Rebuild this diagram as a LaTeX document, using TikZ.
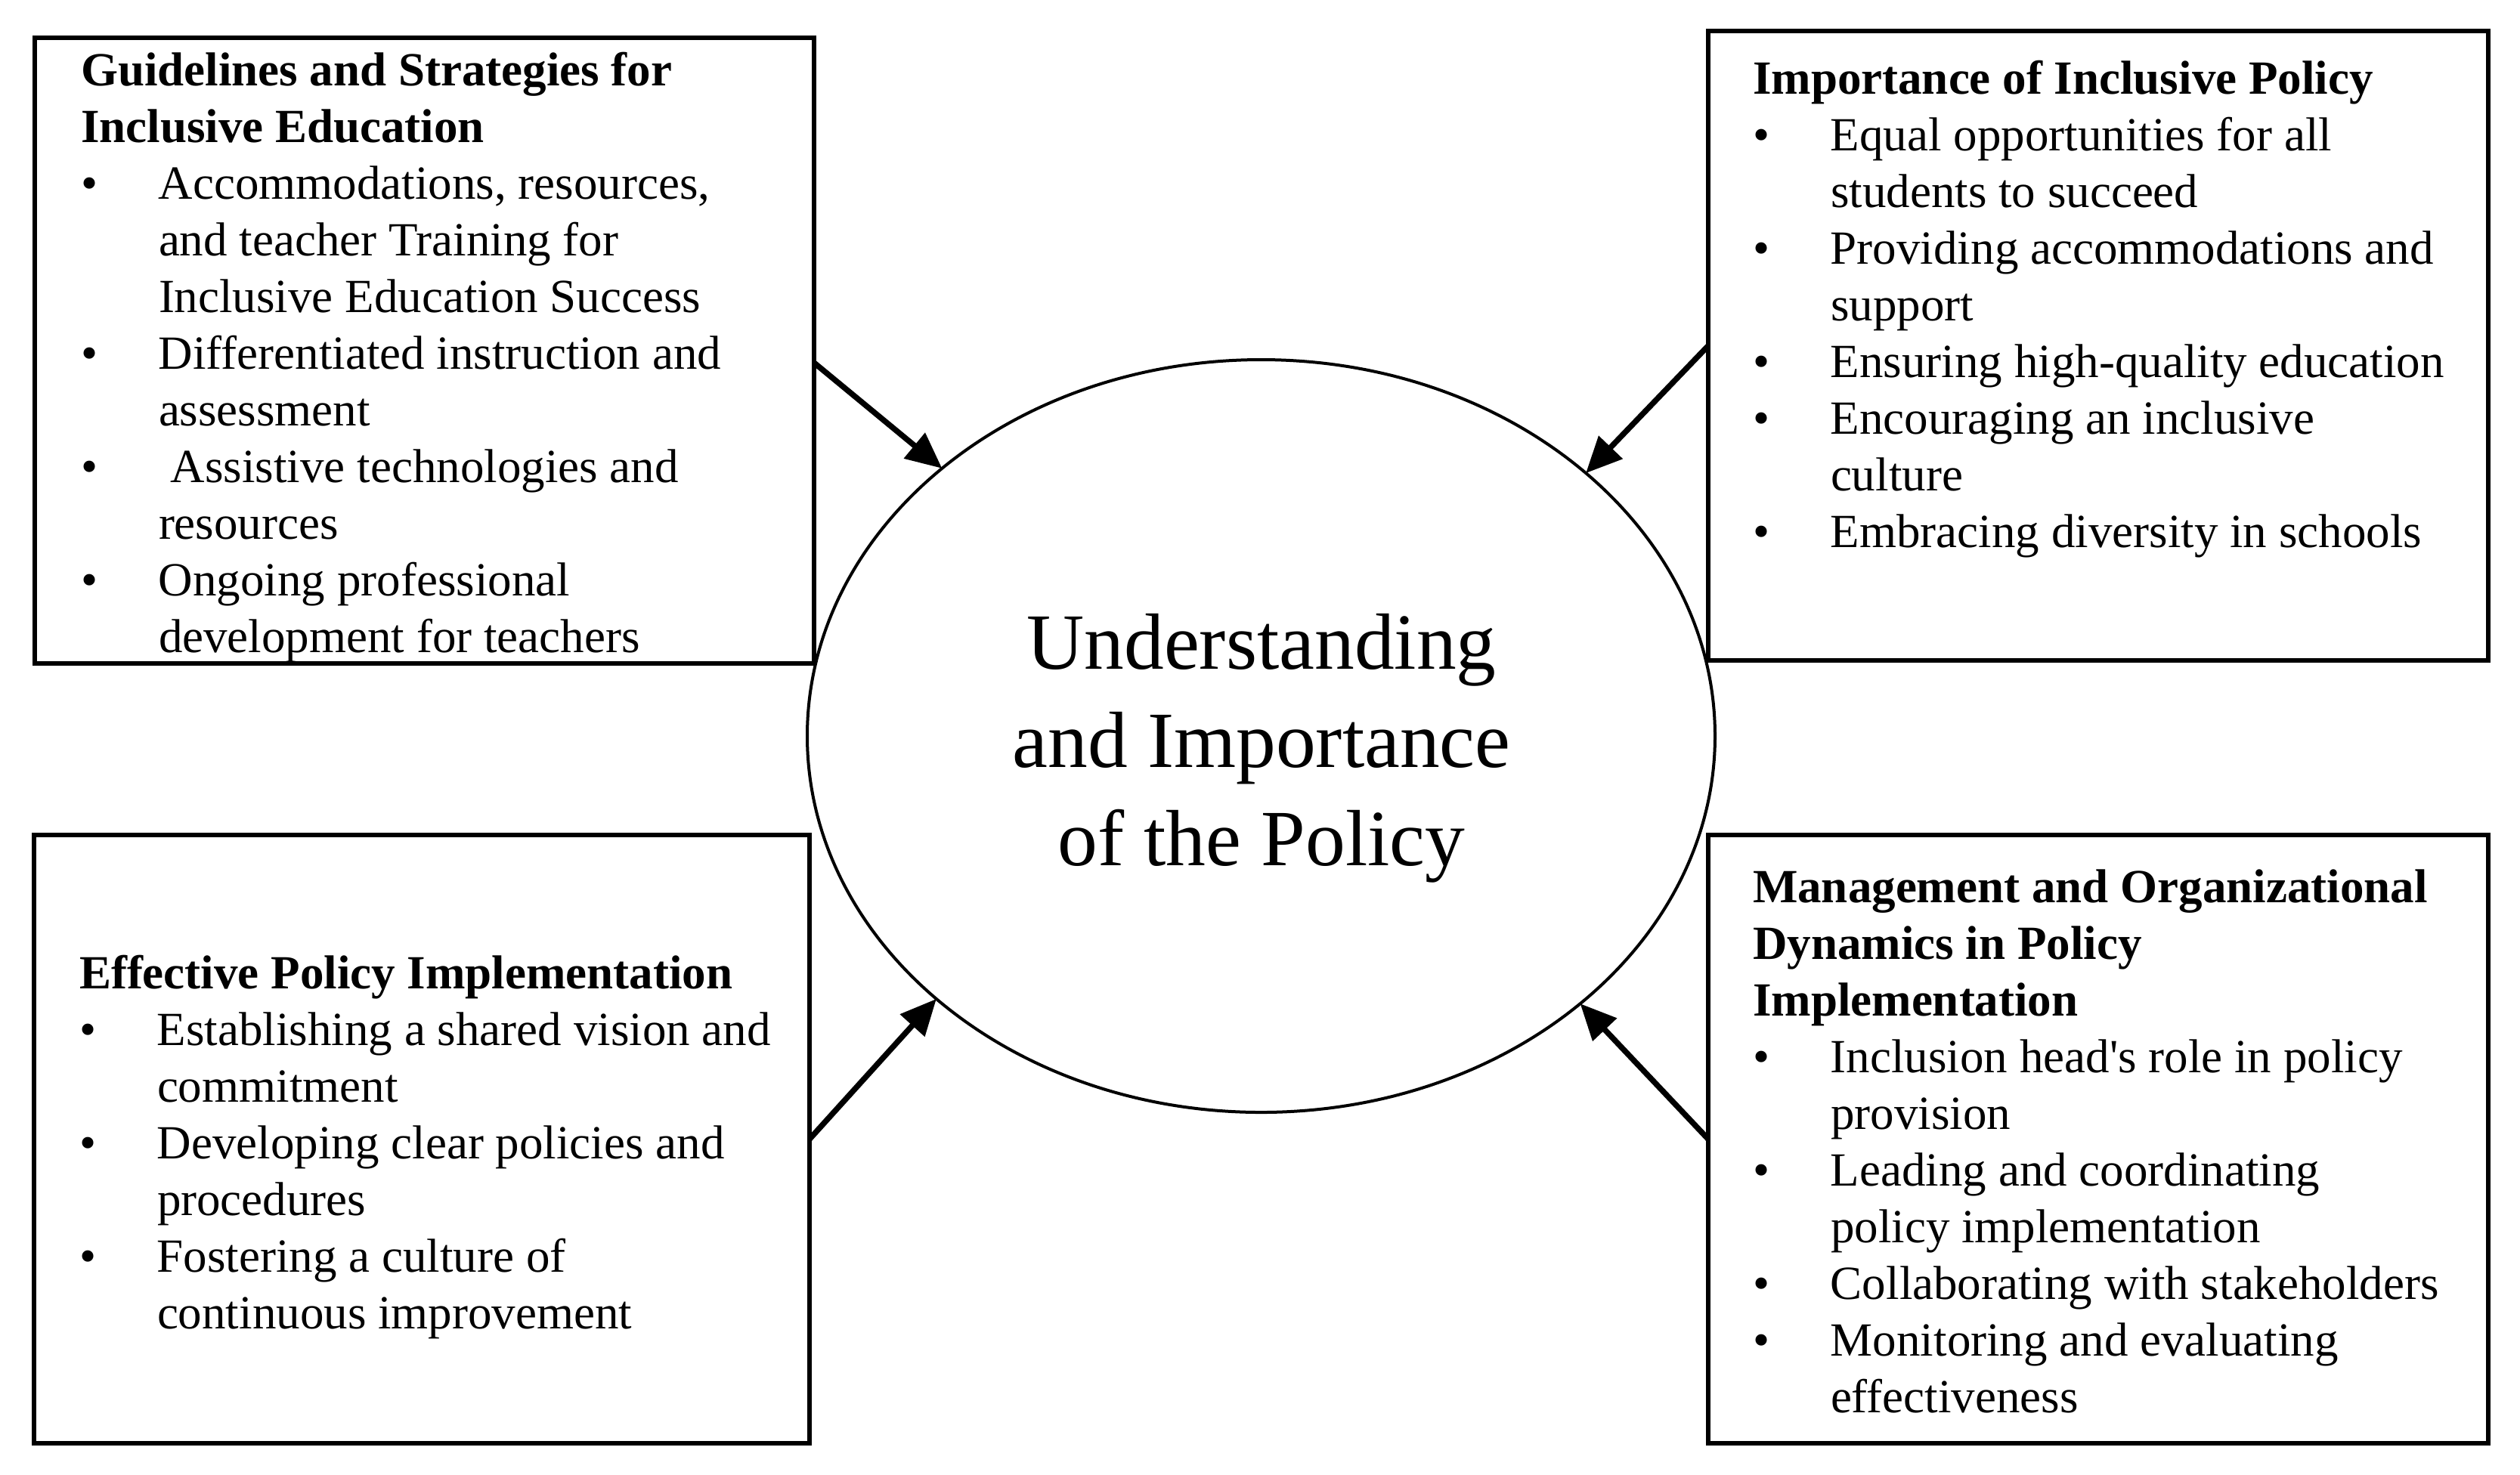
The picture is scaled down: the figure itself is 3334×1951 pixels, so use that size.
\documentclass[tikz,border=0pt]{standalone}
\usepackage{fontspec}
\setmainfont{Liberation Serif}
\newfontfamily\rawserif{Liberation Serif}[Ligatures=TeXOff]
\usetikzlibrary{arrows.meta,shapes.geometric}
\newcommand{\fls}{\rule{0pt}{10pt}}
\newcommand{\bul}{\makebox[20.6pt][l]{\textbullet}}
\newcommand{\ind}{\makebox[20.6pt]{}}
\begin{document}
\begin{tikzpicture}[x=0.2pt,y=-0.2pt,
  boxst/.style={draw, line width=1.2pt, inner sep=0pt, outer sep=0pt},
  txt/.style={anchor=north west, inner sep=0pt, align=left, font=\fontsize{12.6}{15}\selectfont},
  arr/.style={line width=1.5pt, -{Triangle[length=9.5pt,width=8.5pt]}},
  hub/.style={draw, ellipse, line width=0.8pt, inner sep=0pt, outer sep=0pt}
]
\useasboundingbox (0,0) rectangle (3334,1951);
\fill[white] (0,0) rectangle (3334,1951);

% boxes
\node[boxst, minimum width=206.2pt, minimum height=165.5pt] (boxTL) at (561.5,464) {};
\node[boxst, minimum width=206.4pt, minimum height=166.6pt] (boxTR) at (2776,457.5) {};
\node[boxst, minimum width=205.2pt, minimum height=161pt] (boxBL) at (558,1507.5) {};
\node[boxst, minimum width=206.4pt, minimum height=161pt] (boxBR) at (2776,1507.5) {};

% central ellipse
\node[hub, minimum width=240.2pt, minimum height=199.2pt] (ell) at (1668.5,974) {};
\node[align=center, inner sep=0pt, font=\fontsize{21.1}{26}\selectfont] (core) at (1669,990)
  {Understanding\\and Importance\\of the Policy};

% texts
\node[txt] (tTL) at (106,62) {\fls\textbf{Guidelines and Strategies for}\\
\textbf{Inclusive Education}\\
\bul Accommodations, resources,\\
\ind and teacher Training for\\
\ind Inclusive Education Success\\
\bul Differentiated instruction and\\
\ind assessment\\
\bul\hspace*{3.2pt}Assistive technologies and\\
\ind resources\\
\bul Ongoing professional\\
\ind development for teachers};

\node[txt] (tTR) at (2318,73) {\fls\textbf{Importance of Inclusive Policy}\\
\bul Equal opportunities for all\\
\ind students to succeed\\
\bul Providing accommodations and\\
\ind support\\
\bul Ensuring high-quality education\\
\bul Encouraging an inclusive\\
\ind culture\\
\bul Embracing diversity in schools};

\node[txt] (tBL) at (104,1257) {\fls\textbf{Effective Policy Implementation}\\
\bul Establishing a shared vision and\\
\ind commitment\\
\bul Developing clear policies and\\
\ind procedures\\
\bul Fostering a culture of\\
\ind continuous improvement};

\node[txt] (tBR) at (2318,1143) {\fls\textbf{Management and Organizational}\\
\textbf{Dynamics in Policy}\\
\textbf{Implementation}\\
\bul Inclusion head{\rawserif'}s role in policy\\
\ind provision\\
\bul Leading and coordinating\\
\ind policy implementation\\
\bul Collaborating with stakeholders\\
\bul Monitoring and evaluating\\
\ind effectiveness};

% arrows
\draw[arr] ([yshift=-3.2pt]boxTL.east) -- (ell.140.35);
\draw[arr] (boxTR.west) -- (ell.39.4);
\draw[arr] (boxBL.east) -- (ell.219.9);
\draw[arr] (boxBR.west) -- (ell.320.4);
\end{tikzpicture}
\end{document}
